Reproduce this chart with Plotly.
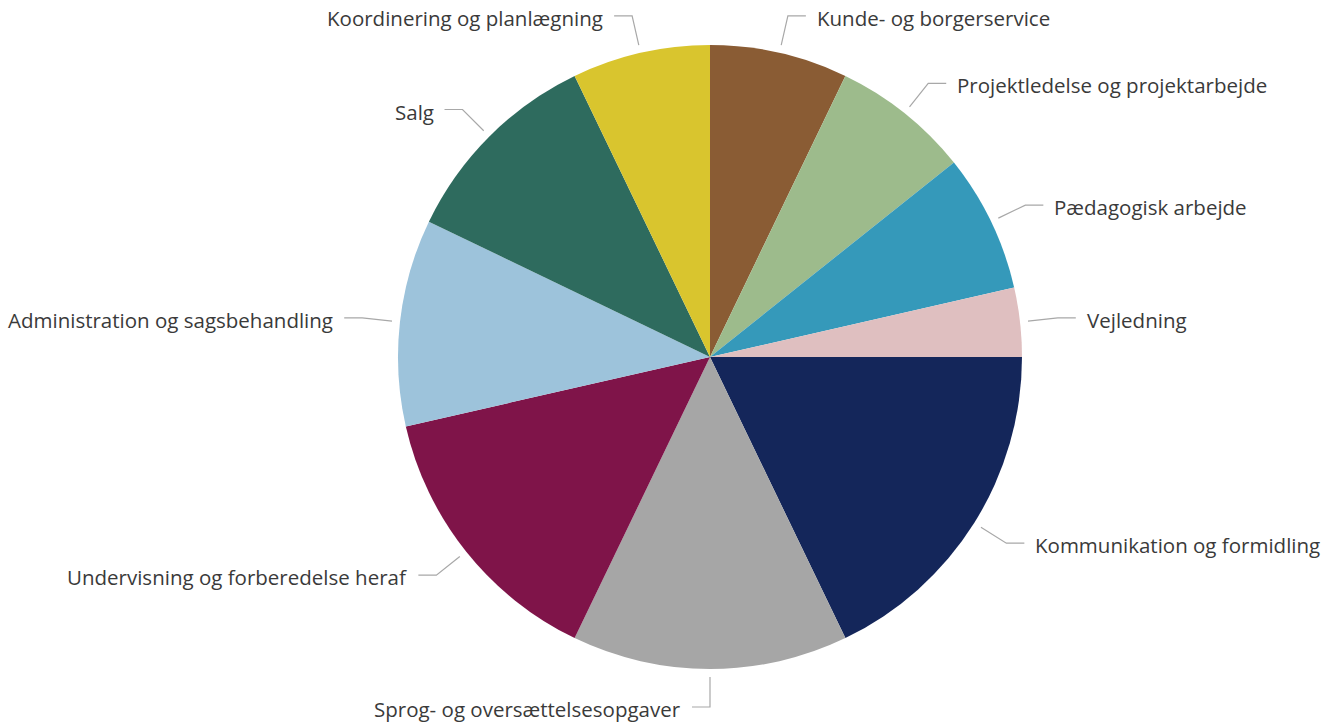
import math
import plotly.graph_objects as go

# Slice data, clockwise from 12 o'clock
categories = [
    "Kunde- og borgerservice",
    "Projektledelse og projektarbejde",
    "Pædagogisk arbejde",
    "Vejledning",
    "Kommunikation og formidling",
    "Sprog- og oversættelsesopgaver",
    "Undervisning og forberedelse heraf",
    "Administration og sagsbehandling",
    "Salg",
    "Koordinering og planlægning",
]
counts = [2, 2, 2, 1, 5, 4, 4, 3, 3, 2]
colors = [
    "#8A5C34", "#9DBB8C", "#3599BA", "#DFBFC0", "#14265A",
    "#A6A6A6", "#7F1449", "#9DC3DB", "#2E6B5E", "#D9C52E",
]

W, H = 1335, 725
CX, CY, R = 710, 357, 312  # pie centre and radius in pixels

dom_x = [(CX - R) / W, (CX + R) / W]
dom_y = [1 - (CY + R) / H, 1 - (CY - R) / H]

fig = go.Figure(
    go.Pie(
        labels=categories,
        values=counts,
        sort=False,
        direction="clockwise",
        rotation=0,
        marker=dict(colors=colors, line=dict(width=0)),
        textinfo="none",
        hoverinfo="label+value+percent",
        domain=dict(x=dom_x, y=dom_y),
        showlegend=False,
    )
)


def to_paper(px, py):
    return px / W, 1 - py / H


total = sum(counts)
cum = 0
shapes, annotations = [], []
R_IN, R_OUT, HSEG, GAP = R + 8, R + 38, 18, 9
for name, v in zip(categories, counts):
    mid = (cum + v / 2) / total * 2 * math.pi
    cum += v
    s, c = math.sin(mid), math.cos(mid)
    x0, y0 = CX + R_IN * s, CY - R_IN * c
    x1, y1 = CX + R_OUT * s, CY - R_OUT * c
    side = 1 if s > 1e-6 else -1
    x2 = x1 + side * HSEG
    p0, p1, p2 = to_paper(x0, y0), to_paper(x1, y1), to_paper(x2, y1)
    shapes.append(dict(
        type="path", xref="paper", yref="paper",
        path=f"M {p0[0]} {p0[1]} L {p1[0]} {p1[1]} L {p2[0]} {p2[1]}",
        line=dict(color="#A8A8A8", width=1.2),
    ))
    tx, ty = to_paper(x2 + side * GAP, y1 + 2)
    annotations.append(dict(
        x=tx, y=ty, xref="paper", yref="paper", text=name, showarrow=False,
        xanchor="left" if side > 0 else "right", yanchor="middle",
        font=dict(family="Open Sans", size=20.5, color="#3A3A3A"),
    ))

fig.update_layout(
    width=W, height=H,
    margin=dict(l=0, r=0, t=0, b=0),
    paper_bgcolor="white", plot_bgcolor="white",
    shapes=shapes, annotations=annotations,
)

fig.write_html("out.html")
